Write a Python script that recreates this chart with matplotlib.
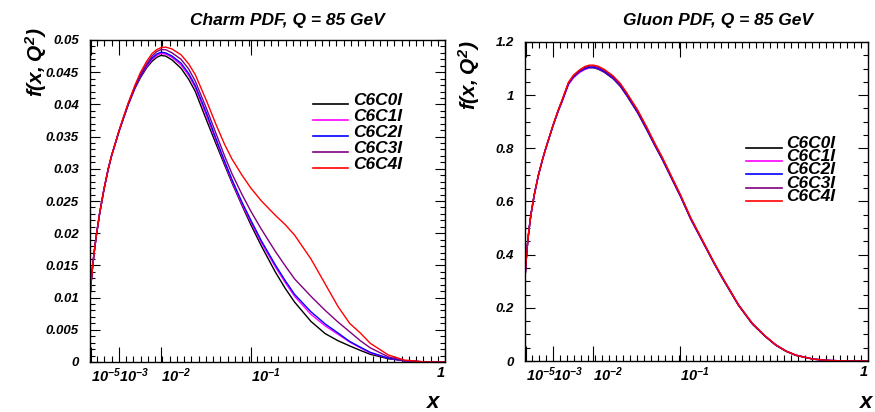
import numpy as np
import matplotlib
matplotlib.use('Agg')
import matplotlib.pyplot as plt
from matplotlib.ticker import FixedLocator, MultipleLocator, FuncFormatter, NullFormatter
from matplotlib.lines import Line2D

plt.rcParams['font.family'] = ['Liberation Sans', 'DejaVu Sans']
plt.rcParams['font.weight'] = 'bold'
plt.rcParams['font.style'] = 'italic'
plt.rcParams['mathtext.fontset'] = 'custom'
plt.rcParams['mathtext.rm'] = 'Liberation Sans:bold:italic'
plt.rcParams['mathtext.it'] = 'Liberation Sans:bold:italic'
plt.rcParams['mathtext.bf'] = 'Liberation Sans:bold:italic'

# ---------------- data ----------------
series_names = ['C6C0I', 'C6C1I', 'C6C2I', 'C6C3I', 'C6C4I']
series_colors = ['#000000', '#ff00ff', '#0000ff', '#800080', '#ff0000']

x_vals = [8e-6, 1.2e-5, 2e-5, 3e-5, 5e-5, 1e-4, 2e-4, 3.5e-4, 5e-4, 1e-3, 1.5e-3, 2e-3, 3e-3, 4e-3,
          5.5e-3, 7e-3, 8.5e-3, 1e-2, 1.2e-2, 1.5e-2, 2e-2, 2.5e-2, 3e-2, 4e-2, 5e-2, 6e-2, 7e-2,
          8.5e-2, 0.1, 0.12, 0.15, 0.175, 0.2, 0.25, 0.3, 0.35, 0.4, 0.45, 0.5, 0.6, 0.7, 0.85, 1.0]

charm_C6C0I = [0.0100, 0.0122, 0.0148, 0.0168, 0.0194, 0.0230, 0.0268, 0.0300, 0.0320, 0.0358, 0.0382, 0.0400, 0.0425, 0.0441,
               0.0457, 0.0467, 0.0473, 0.0476, 0.0475, 0.0469, 0.0456, 0.0439, 0.0420, 0.0375, 0.0338, 0.0306, 0.0278,
               0.0243, 0.0213, 0.0180, 0.0140, 0.0114, 0.0093, 0.0063, 0.0044, 0.0033, 0.0025, 0.0018, 0.0012, 0.0005, 0.0002, 0.0, 0.0]
charm_C6C1I = [0.0100, 0.0122, 0.0148, 0.0168, 0.0194, 0.0230, 0.0268, 0.0300, 0.0320, 0.0358, 0.0382, 0.0401, 0.0426, 0.0443,
               0.0459, 0.0470, 0.0476, 0.0479, 0.0478, 0.0473, 0.0461, 0.0445, 0.0426, 0.0382, 0.0343, 0.0309, 0.0280,
               0.0245, 0.0217, 0.0185, 0.0148, 0.0123, 0.0102, 0.0074, 0.0056, 0.0043, 0.0031, 0.0022, 0.0014, 0.0006, 0.0002, 0.0, 0.0]
charm_C6C2I = [0.0100, 0.0122, 0.0148, 0.0168, 0.0194, 0.0230, 0.0268, 0.0300, 0.0320, 0.0358, 0.0382, 0.0401, 0.0427, 0.0444,
               0.0461, 0.0472, 0.0478, 0.0481, 0.0480, 0.0475, 0.0464, 0.0448, 0.0429, 0.0386, 0.0346, 0.0312, 0.0283,
               0.0248, 0.0220, 0.0188, 0.0151, 0.0126, 0.0105, 0.0078, 0.0059, 0.0045, 0.0032, 0.0023, 0.0015, 0.0006, 0.0002, 0.0, 0.0]
charm_C6C3I = [0.0100, 0.0122, 0.0148, 0.0168, 0.0194, 0.0230, 0.0268, 0.0300, 0.0320, 0.0359, 0.0383, 0.0402, 0.0428, 0.0446,
               0.0463, 0.0475, 0.0482, 0.0485, 0.0485, 0.0480, 0.0470, 0.0455, 0.0436, 0.0393, 0.0354, 0.0320, 0.0292,
               0.0260, 0.0234, 0.0206, 0.0172, 0.0149, 0.0129, 0.0102, 0.0080, 0.0062, 0.0047, 0.0033, 0.0022, 0.0008, 0.0002, 0.0, 0.0]
charm_C6C4I = [0.0100, 0.0122, 0.0148, 0.0168, 0.0194, 0.0230, 0.0268, 0.0300, 0.0320, 0.0359, 0.0384, 0.0403, 0.0430, 0.0449,
               0.0467, 0.0479, 0.0485, 0.0488, 0.0489, 0.0486, 0.0477, 0.0463, 0.0446, 0.0405, 0.0368, 0.0338, 0.0315,
               0.0290, 0.0270, 0.0250, 0.0228, 0.0213, 0.0197, 0.0160, 0.0121, 0.0086, 0.0060, 0.0045, 0.0029, 0.0011, 0.0003, 0.0, 0.0]

gluon_C6C0I = [0.31, 0.37, 0.44, 0.49, 0.55, 0.625, 0.70, 0.76, 0.80, 0.885, 0.94, 0.978, 1.043, 1.068,
               1.088, 1.098, 1.103, 1.103, 1.098, 1.086, 1.062, 1.033, 0.998, 0.933, 0.868, 0.809, 0.758,
               0.684, 0.619, 0.534, 0.439, 0.369, 0.309, 0.209, 0.139, 0.094, 0.059, 0.036, 0.021, 0.007, 0.002, 0.0, 0.0]
gluon_C6C1I = [0.31, 0.37, 0.44, 0.49, 0.55, 0.625, 0.70, 0.76, 0.80, 0.885, 0.938, 0.975, 1.040, 1.066,
               1.086, 1.097, 1.103, 1.104, 1.100, 1.088, 1.064, 1.035, 1.000, 0.935, 0.870, 0.810, 0.760,
               0.686, 0.620, 0.535, 0.440, 0.370, 0.310, 0.210, 0.140, 0.095, 0.060, 0.037, 0.022, 0.007, 0.002, 0.0, 0.0]
gluon_C6C2I = [0.31, 0.37, 0.44, 0.49, 0.55, 0.625, 0.70, 0.76, 0.80, 0.885, 0.94, 0.978, 1.043, 1.069,
               1.089, 1.100, 1.105, 1.105, 1.101, 1.089, 1.065, 1.036, 1.001, 0.936, 0.871, 0.811, 0.761,
               0.687, 0.621, 0.536, 0.441, 0.371, 0.311, 0.211, 0.141, 0.095, 0.060, 0.037, 0.022, 0.007, 0.002, 0.0, 0.0]
gluon_C6C3I = [0.31, 0.37, 0.44, 0.49, 0.55, 0.625, 0.70, 0.76, 0.80, 0.886, 0.941, 0.980, 1.046, 1.072,
               1.092, 1.104, 1.109, 1.109, 1.105, 1.093, 1.069, 1.040, 1.005, 0.940, 0.875, 0.814, 0.764,
               0.689, 0.623, 0.538, 0.442, 0.372, 0.312, 0.211, 0.141, 0.095, 0.060, 0.037, 0.022, 0.007, 0.002, 0.0, 0.0]
gluon_C6C4I = [0.31, 0.37, 0.44, 0.49, 0.55, 0.626, 0.70, 0.76, 0.80, 0.887, 0.943, 0.983, 1.049, 1.076,
               1.096, 1.108, 1.113, 1.113, 1.109, 1.097, 1.073, 1.044, 1.009, 0.944, 0.879, 0.818, 0.767,
               0.692, 0.626, 0.540, 0.444, 0.373, 0.313, 0.212, 0.142, 0.096, 0.061, 0.037, 0.022, 0.007, 0.002, 0.0, 0.0]

charm_series = [charm_C6C0I, charm_C6C1I, charm_C6C2I, charm_C6C3I, charm_C6C4I]
gluon_series = [gluon_C6C0I, gluon_C6C1I, gluon_C6C2I, gluon_C6C3I, gluon_C6C4I]

x_tick_vals = [1e-5, 1e-3, 1e-2, 1e-1, 1.0]
x_tick_labels = ['$10^{-5}$', '$10^{-3}$', '$10^{-2}$', '$10^{-1}$', '1']
titles = ['Charm PDF, Q = 85 GeV', 'Gluon PDF, Q = 85 GeV']

# ---------------- figure ----------------
W, H = 875, 412
fig = plt.figure(figsize=(W / 100, H / 100), dpi=100)
fig.patch.set_facecolor('white')


def fx(px):
    return px / W


def fy(py):
    return 1 - py / H


def fwd(x):
    return np.cbrt(x)


def inv(u):
    return np.asarray(u) ** 3


ax1 = fig.add_axes([fx(90), fy(362), 355 / W, 322 / H])
ax2 = fig.add_axes([fx(525), fy(361), 343 / W, 319 / H])

for ax, data, ymax, ymaj, ymin in [(ax1, charm_series, 0.05, 0.005, 0.001),
                                   (ax2, gluon_series, 1.2, 0.2, 0.05)]:
    ax.set_xscale('function', functions=(fwd, inv))
    for vals, col in zip(data, series_colors):
        ax.plot(x_vals, vals, color=col, lw=1.0)
    ax.set_xlim(8e-6, 1.0)
    ax.set_ylim(0, ymax)
    ax.xaxis.set_major_locator(FixedLocator(x_tick_vals))
    ax.set_xticklabels(x_tick_labels)
    ax.xaxis.set_minor_locator(FixedLocator([(0.02 * k) ** 3 for k in range(1, 51)]))
    ax.xaxis.set_minor_formatter(NullFormatter())
    ax.yaxis.set_major_locator(MultipleLocator(ymaj))
    ax.yaxis.set_minor_locator(MultipleLocator(ymin))
    ax.yaxis.set_major_formatter(FuncFormatter(lambda v, p: '%g' % round(v, 4)))
    ax.tick_params(axis='both', which='both', direction='in', top=True, right=True,
                   width=0.8, labelsize=9.5, colors='black')
    ax.tick_params(axis='x', which='major', length=11, pad=3, labelsize=10.5)
    ax.tick_params(axis='x', which='minor', length=4.5)
    ax.tick_params(axis='y', which='major', length=7.5, pad=8)
    ax.tick_params(axis='y', which='minor', length=3.8)
    for lab in ax.get_xticklabels():
        lab.set_horizontalalignment('left')
    ax.get_xticklabels()[-1].set_horizontalalignment('right')
    for s in ax.spines.values():
        s.set_linewidth(1.0)

# titles
fig.text(fx(287), fy(21), titles[0], ha='center', va='center', fontsize=12.5)
fig.text(fx(718), fy(21), titles[1], ha='center', va='center', fontsize=12.5)

# axis titles
fig.text(fx(36), fy(27), '$f(x,Q^2)$', rotation=90, ha='center', va='top', fontsize=15)
fig.text(fx(469), fy(40), '$f(x,Q^2)$', rotation=90, ha='center', va='top', fontsize=15)
fig.text(fx(433), fy(408), 'x', ha='center', va='baseline', fontsize=16)
fig.text(fx(866), fy(408), 'x', ha='center', va='baseline', fontsize=16)

# legends
leg_specs = [(313, 348, 353, [104, 120, 136, 152, 168], 1),
             (746, 782, 786, [148, 161, 174, 188, 201], 0)]
for x0, x1, xt, ys, dy in leg_specs:
    for name, col, yy in zip(series_names, series_colors, ys):
        fig.add_artist(Line2D([fx(x0), fx(x1)], [fy(yy), fy(yy)], color=col, lw=1.2,
                              transform=fig.transFigure))
        fig.text(fx(xt), fy(yy + dy), name, ha='left', va='baseline', fontsize=12.5)

fig.savefig('out.png', dpi=100, facecolor='white')
